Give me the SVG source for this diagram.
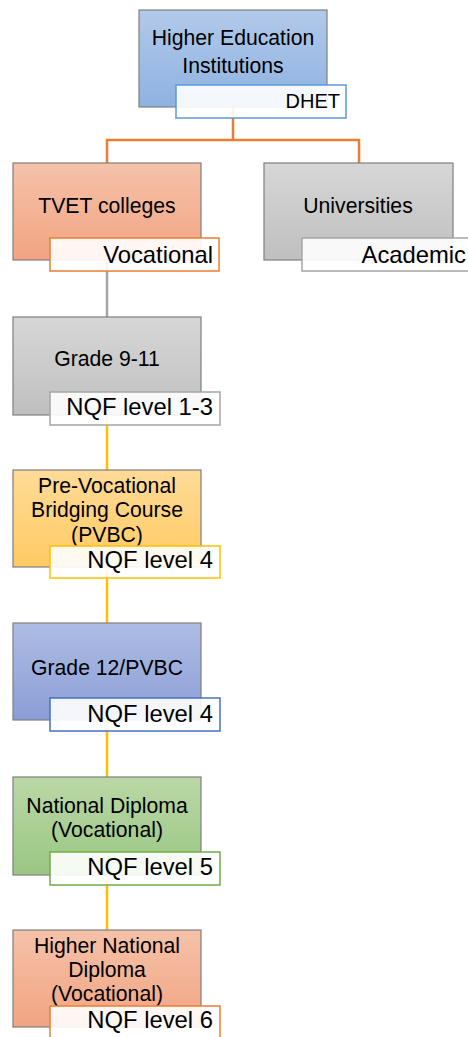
<svg xmlns="http://www.w3.org/2000/svg" width="468" height="1037" viewBox="0 0 468 1037">
<defs>
<linearGradient id="gBlue" x1="0" y1="0" x2="0" y2="1"><stop offset="0" stop-color="#B2C9EA"/><stop offset="1" stop-color="#8EB2E1"/></linearGradient>
<linearGradient id="gOrange" x1="0" y1="0" x2="0" y2="1"><stop offset="0" stop-color="#F5C2A9"/><stop offset="1" stop-color="#F2A482"/></linearGradient>
<linearGradient id="gGrey" x1="0" y1="0" x2="0" y2="1"><stop offset="0" stop-color="#D7D7D7"/><stop offset="1" stop-color="#BFBFBF"/></linearGradient>
<linearGradient id="gYellow" x1="0" y1="0" x2="0" y2="1"><stop offset="0" stop-color="#FFDB98"/><stop offset="1" stop-color="#FFCA62"/></linearGradient>
<linearGradient id="gPurple" x1="0" y1="0" x2="0" y2="1"><stop offset="0" stop-color="#AFBDE4"/><stop offset="1" stop-color="#8A9ED6"/></linearGradient>
<linearGradient id="gGreen" x1="0" y1="0" x2="0" y2="1"><stop offset="0" stop-color="#BAD8A6"/><stop offset="1" stop-color="#9AC683"/></linearGradient>
</defs>
<style>
.box{stroke:#7F7F7F;stroke-width:1.2}
.lbl{fill:#FFFFFF;fill-opacity:0.9;stroke-width:1.5}
.t{font-family:"Liberation Sans",Arial,sans-serif;font-size:21.2px;fill:#000;text-anchor:middle}
.lt{font-family:"Liberation Sans",Arial,sans-serif;font-size:23.8px;fill:#000;text-anchor:end}
.c{fill:none;stroke-width:2.5}
</style>
<g id="connectors">
<path class="c" stroke="#ED7D31" d="M233 107 V140 M107 163 V140 H359 V163"/>
<path class="c" stroke="#A5A5A5" d="M107 260 V317"/>
<path class="c" stroke="#FFC000" d="M107 415 V470 M107 567 V623 M107 720 V777 M107 875 V930"/>
</g>
<g id="hei">
<rect class="box" x="139" y="10" width="188" height="97" fill="url(#gBlue)"/>
<text class="t" x="233" y="45">Higher Education</text>
<text class="t" x="233" y="73">Institutions</text>
<rect class="lbl" x="176" y="85" width="170" height="33" stroke="#5B9BD5"/>
<text class="lt" x="340" y="108" style="font-size:20px">DHET</text>
</g>
<g id="tvet">
<rect class="box" x="13" y="163" width="188" height="97" fill="url(#gOrange)"/>
<text class="t" x="107" y="213">TVET colleges</text>
<rect class="lbl" x="50" y="238" width="169" height="33" stroke="#ED7D31"/>
<text class="lt" x="213" y="263">Vocational</text>
</g>
<g id="universities">
<rect class="box" x="264" y="163" width="189" height="97" fill="url(#gGrey)"/>
<text class="t" x="358" y="213">Universities</text>
<rect class="lbl" x="302" y="238" width="169" height="33" stroke="#A5A5A5"/>
<text class="lt" x="466" y="263">Academic</text>
</g>
<g id="grade9-11">
<rect class="box" x="13" y="317" width="188" height="98" fill="url(#gGrey)"/>
<text class="t" x="107" y="366">Grade 9-11</text>
<rect class="lbl" x="50" y="392" width="170" height="33" stroke="#A5A5A5"/>
<text class="lt" x="213" y="415">NQF level 1-3</text>
</g>
<g id="pvbc">
<rect class="box" x="13" y="470" width="188" height="97" fill="url(#gYellow)"/>
<text class="t" x="107" y="493">Pre-Vocational</text>
<text class="t" x="107" y="517">Bridging Course</text>
<text class="t" x="107" y="542">(PVBC)</text>
<rect class="lbl" x="50" y="546" width="170" height="32" stroke="#FFC000"/>
<text class="lt" x="213" y="568">NQF level 4</text>
</g>
<g id="grade12">
<rect class="box" x="13" y="623" width="188" height="97" fill="url(#gPurple)"/>
<text class="t" x="107" y="675">Grade 12/PVBC</text>
<rect class="lbl" x="50" y="698" width="170" height="33" stroke="#4472C4"/>
<text class="lt" x="213" y="722">NQF level 4</text>
</g>
<g id="national-diploma">
<rect class="box" x="13" y="777" width="188" height="98" fill="url(#gGreen)"/>
<text class="t" x="107" y="813">National Diploma</text>
<text class="t" x="107" y="837">(Vocational)</text>
<rect class="lbl" x="50" y="852" width="170" height="33" stroke="#70AD47"/>
<text class="lt" x="213" y="875">NQF level 5</text>
</g>
<g id="higher-national-diploma">
<rect class="box" x="13" y="930" width="188" height="97" fill="url(#gOrange)"/>
<text class="t" x="107" y="953">Higher National</text>
<text class="t" x="107" y="977">Diploma</text>
<text class="t" x="107" y="1001">(Vocational)</text>
<rect class="lbl" x="50" y="1006" width="170" height="40" stroke="#ED7D31"/>
<text class="lt" x="213" y="1028">NQF level 6</text>
</g>
</svg>
